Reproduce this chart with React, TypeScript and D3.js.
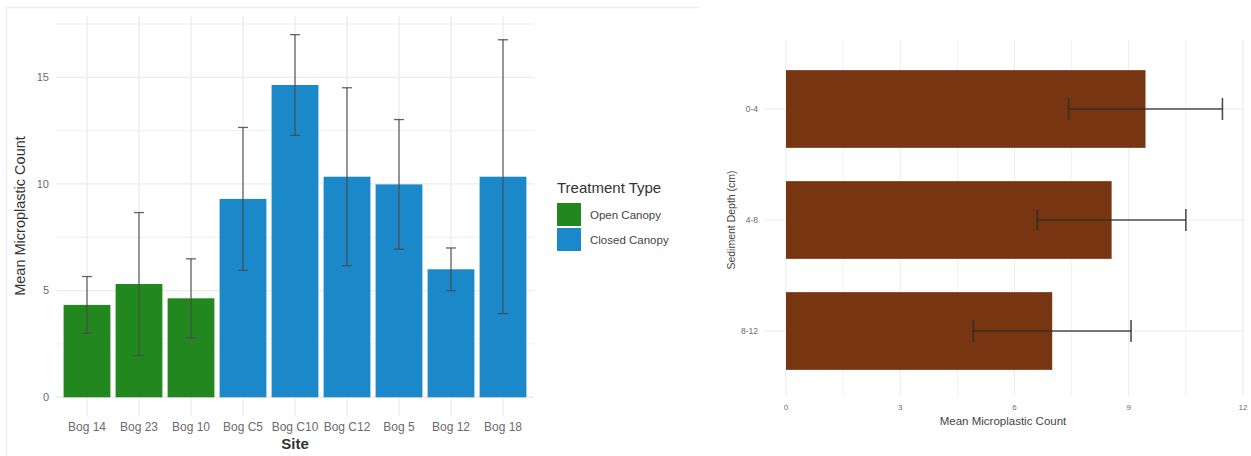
import React from "react";
import * as d3 from "d3";

const sites = ["Bog 14", "Bog 23", "Bog 10", "Bog C5", "Bog C10", "Bog C12", "Bog 5", "Bog 12", "Bog 18"];
const siteTreatment = ["Open Canopy", "Open Canopy", "Open Canopy", "Closed Canopy", "Closed Canopy", "Closed Canopy", "Closed Canopy", "Closed Canopy", "Closed Canopy"];
const siteMeans = [4.33, 5.31, 4.64, 9.3, 14.64, 10.34, 9.98, 6.0, 10.34];
const siteErr = [1.33, 3.35, 1.85, 3.35, 2.36, 4.17, 3.04, 1.0, 6.42];
const yTicksLeft = [0, 5, 10, 15];
const yMinorLeft = [2.5, 7.5, 12.5, 17.5];
const treatments = ["Open Canopy", "Closed Canopy"];
const treatmentColors = ["#23871f", "#1a88c9"];

const depths = ["0-4", "4-8", "8-12"];
const depthMeans = [9.44, 8.55, 6.99];
const depthErr = [2.02, 1.95, 2.07];
const xTicksRight = [0, 3, 6, 9, 12];
const xMinorRight = [1.5, 4.5, 7.5, 10.5];

const FONT = "'Liberation Sans', Arial, Helvetica, sans-serif";
const GRID = "#ebebeb";
const TICK = "#6b6b6b";

function LeftChart() {
  const x = d3.scalePoint<string>().domain(sites).range([87, 503]);
  const cx = (i: number) => x(sites[i]) as number;
  const bw = x.step() * 0.9;
  const y = d3.scaleLinear().domain([-0.85, 17.87]).range([415.4, 16.1]);
  const color = d3.scaleOrdinal<string, string>().domain(treatments).range(treatmentColors);
  const px0 = 56, px1 = 534;
  return (
    <g>
      {yMinorLeft.map((v) => (
        <line key={"mn" + v} x1={px0} x2={px1} y1={y(v)} y2={y(v)} stroke={GRID} strokeWidth={0.8} />
      ))}
      {yTicksLeft.map((v) => (
        <line key={"mj" + v} x1={px0} x2={px1} y1={y(v)} y2={y(v)} stroke={GRID} strokeWidth={1.3} />
      ))}
      {sites.map((s, i) => (
        <line key={"vg" + s} x1={cx(i)} x2={cx(i)} y1={y(17.87)} y2={y(-0.85)} stroke={GRID} strokeWidth={1.3} />
      ))}
      {sites.map((s, i) => (
        <rect key={"b" + s} x={cx(i) - bw / 2} y={y(siteMeans[i])} width={bw} height={y(0) - y(siteMeans[i])} fill={color(siteTreatment[i])} />
      ))}
      {sites.map((s, i) => {
        const hi = y(siteMeans[i] + siteErr[i]);
        const lo = y(siteMeans[i] - siteErr[i]);
        return (
          <g key={"e" + s} stroke="#4a4a4a" strokeOpacity={0.85} strokeWidth={1.3}>
            <line x1={cx(i)} x2={cx(i)} y1={hi} y2={lo} />
            <line x1={cx(i) - 5} x2={cx(i) + 5} y1={hi} y2={hi} />
            <line x1={cx(i) - 5} x2={cx(i) + 5} y1={lo} y2={lo} />
          </g>
        );
      })}
      {yTicksLeft.map((v) => (
        <text key={"yt" + v} x={49} y={y(v)} dy="0.35em" textAnchor="end" fontSize={11} fill={TICK} fontFamily={FONT}>{v}</text>
      ))}
      {sites.map((s, i) => (
        <text key={"xt" + s} x={cx(i)} y={431} textAnchor="middle" fontSize={12} fill={TICK} fontFamily={FONT}>{s}</text>
      ))}
      <text x={295} y={449} textAnchor="middle" fontSize={15} fontWeight="bold" fill="#333" fontFamily={FONT}>Site</text>
      <text transform={`translate(25,${216}) rotate(-90)`} textAnchor="middle" fontSize={14.5} fill="#333" fontFamily={FONT}>Mean Microplastic Count</text>
      <text x={557} y={193} fontSize={15} fill="#333" fontFamily={FONT}>Treatment Type</text>
      {treatments.map((t, i) => (
        <g key={"lg" + t}>
          <rect x={557} y={203 + i * 25} width={24} height={23} fill={color(t)} />
          <text x={590} y={215 + i * 25} dy="0.35em" fontSize={11.5} fill="#444" fontFamily={FONT}>{t}</text>
        </g>
      ))}
    </g>
  );
}

function RightChart() {
  const x = d3.scaleLinear().domain([0, 12]).range([786, 1243]);
  const y = d3.scalePoint<string>().domain(depths).range([109, 331]);
  const px0 = x(-0.57), px1 = x(12.04);
  const yc = (d: string) => y(d) as number;
  const bh = y.step() * 0.7;
  return (
    <g>
      {xMinorRight.map((v) => (
        <line key={"mn" + v} x1={x(v)} x2={x(v)} y1={40} y2={396} stroke={GRID} strokeWidth={0.7} />
      ))}
      {xTicksRight.map((v) => (
        <line key={"mj" + v} x1={x(v)} x2={x(v)} y1={40} y2={396} stroke={GRID} strokeWidth={1.1} />
      ))}
      {depths.map((d) => (
        <line key={"hg" + d} x1={px0} x2={px1} y1={yc(d)} y2={yc(d)} stroke={GRID} strokeWidth={1.1} />
      ))}
      {depths.map((d, i) => (
        <rect key={"b" + d} x={x(0)} y={yc(d) - bh / 2} width={x(depthMeans[i]) - x(0)} height={bh} fill="#783512" />
      ))}
      {depths.map((d, i) => {
        const lo = x(depthMeans[i] - depthErr[i]);
        const hi = x(depthMeans[i] + depthErr[i]);
        const c = yc(d);
        return (
          <g key={"e" + d} stroke="#2e2e2e" strokeOpacity={0.85} strokeWidth={1.6}>
            <line x1={lo} x2={hi} y1={c} y2={c} />
            <line x1={lo} x2={lo} y1={c - 11} y2={c + 11} />
            <line x1={hi} x2={hi} y1={c - 11} y2={c + 11} />
          </g>
        );
      })}
      {depths.map((d) => (
        <text key={"yt" + d} x={758} y={yc(d)} dy="0.35em" textAnchor="end" fontSize={8.5} fill={TICK} fontFamily={FONT}>{d}</text>
      ))}
      {xTicksRight.map((v) => (
        <text key={"xt" + v} x={x(v)} y={410} textAnchor="middle" fontSize={8} fill={TICK} fontFamily={FONT}>{v}</text>
      ))}
      <text x={1003} y={425} textAnchor="middle" fontSize={11.5} fill="#444" fontFamily={FONT}>Mean Microplastic Count</text>
      <text transform={`translate(735,${220}) rotate(-90)`} textAnchor="middle" fontSize={10.5} fill="#444" fontFamily={FONT}>Sediment Depth (cm)</text>
    </g>
  );
}

export default function App() {
  return (
    <svg width={1251} height={456} style={{ position: "absolute", left: 0, top: 0, background: "#fff" }}>
      <rect x={0} y={0} width={1251} height={456} fill="#fff" />
      <line x1={7} x2={700} y1={7.5} y2={7.5} stroke="#eeeeee" strokeWidth={1.5} />
      <line x1={6.5} x2={6.5} y1={7} y2={456} stroke="#eeeeee" strokeWidth={1.5} />
      <LeftChart />
      <RightChart />
    </svg>
  );
}
